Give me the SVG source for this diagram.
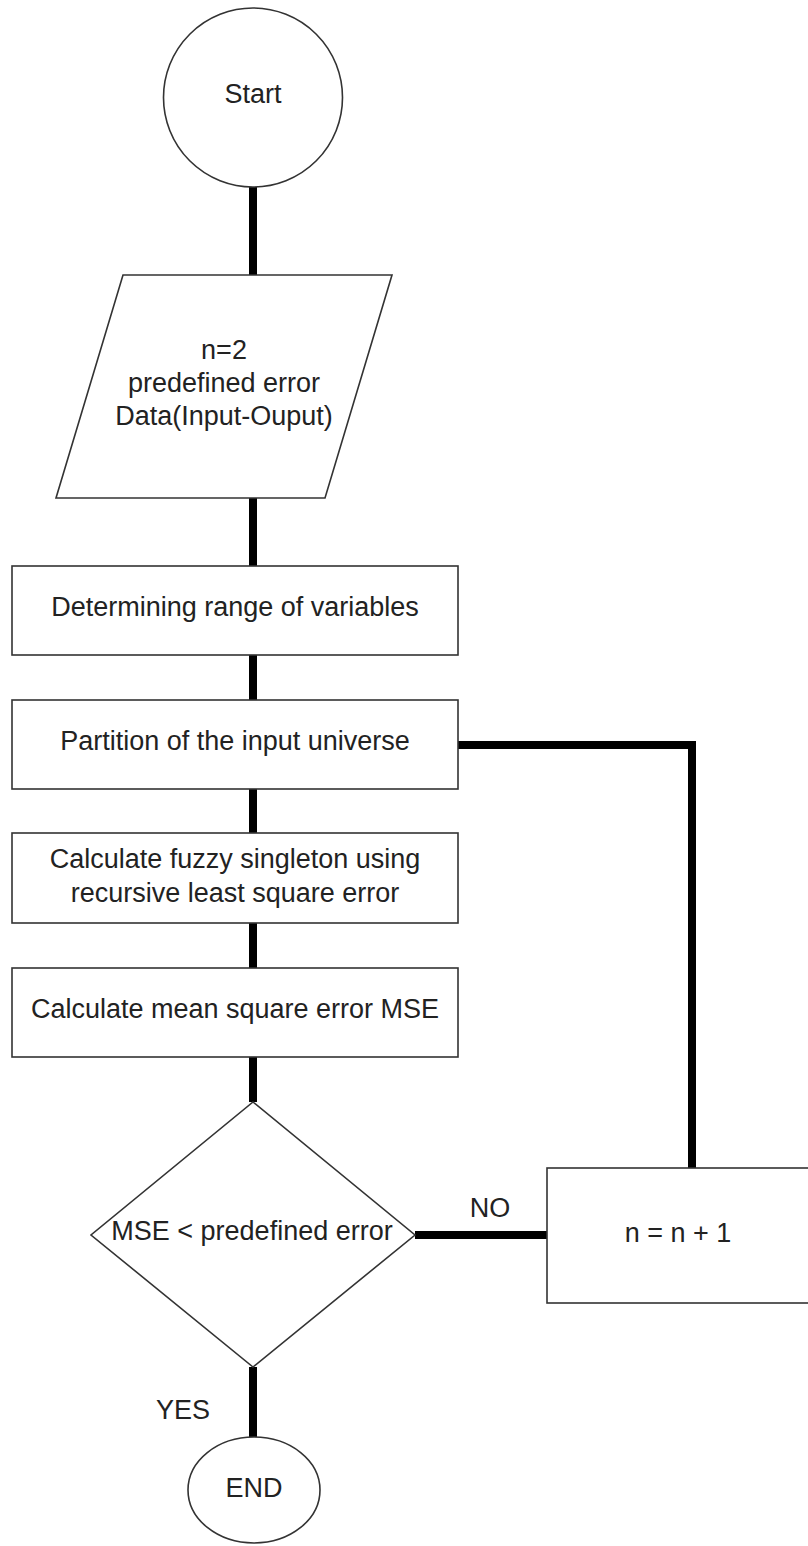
<svg xmlns="http://www.w3.org/2000/svg" width="808" height="1546" viewBox="0 0 808 1546">
<style>
.n{fill:#fff;stroke:#333;stroke-width:1.6}
.c{fill:none;stroke:#000;stroke-width:8}
text{font-family:"Liberation Sans",Arial,sans-serif;font-size:27px;fill:#222;text-anchor:middle}
</style>
<rect width="808" height="1546" fill="#fff"/>
<g id="connectors">
<line class="c" x1="253" y1="187" x2="253" y2="275"/>
<line class="c" x1="253" y1="498" x2="253" y2="566"/>
<line class="c" x1="253" y1="655" x2="253" y2="700"/>
<line class="c" x1="253" y1="789" x2="253" y2="833"/>
<line class="c" x1="253" y1="923" x2="253" y2="968"/>
<line class="c" x1="253" y1="1057" x2="253" y2="1102"/>
<polyline class="c" points="458,745 692,745 692,1168"/>
<line class="c" x1="415" y1="1235" x2="547" y2="1235"/>
<line class="c" x1="253" y1="1367" x2="253" y2="1437"/>
<text x="490" y="1217">NO</text>
<text x="183" y="1419">YES</text>
</g>
<g id="start">
<circle class="n" cx="253" cy="97.5" r="89.5"/>
<text x="253" y="103">Start</text>
</g>
<g id="input">
<polygon class="n" points="123,275 392,275 325,498 56,498"/>
<text x="224" y="359">n=2</text>
<text x="224" y="392">predefined error</text>
<text x="224" y="425">Data(Input-Ouput)</text>
</g>
<g id="range">
<rect class="n" x="12" y="566" width="446" height="89"/>
<text x="235" y="616">Determining range of variables</text>
</g>
<g id="partition">
<rect class="n" x="12" y="700" width="446" height="89"/>
<text x="235" y="750">Partition of the input universe</text>
</g>
<g id="singleton">
<rect class="n" x="12" y="833" width="446" height="90"/>
<text x="235" y="868">Calculate fuzzy singleton using</text>
<text x="235" y="902">recursive least square error</text>
</g>
<g id="mse">
<rect class="n" x="12" y="968" width="446" height="89"/>
<text x="235" y="1018">Calculate mean square error MSE</text>
</g>
<g id="decision">
<polygon class="n" points="253,1102 415,1235 253,1367 91,1235"/>
<text x="252" y="1240">MSE &lt; predefined error</text>
</g>
<g id="increment">
<rect class="n" x="547" y="1168" width="270" height="135"/>
<text x="678" y="1242">n = n + 1</text>
</g>
<g id="end">
<ellipse class="n" cx="254" cy="1490" rx="66" ry="53"/>
<text x="254" y="1497">END</text>
</g>
</svg>
